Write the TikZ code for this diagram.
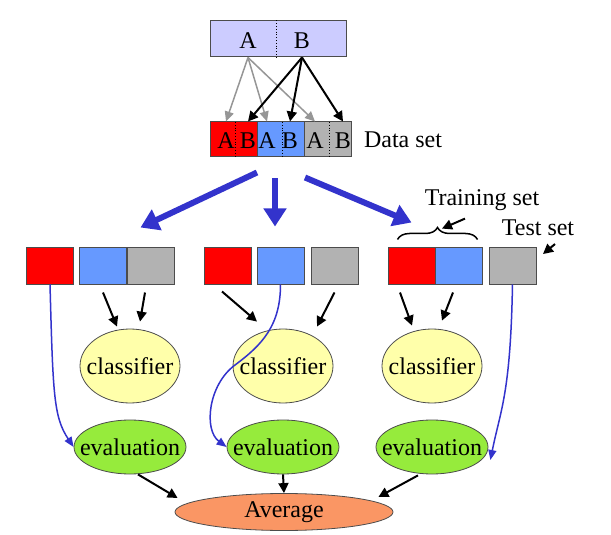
\documentclass[tikz,border=0pt]{standalone}
\usepackage{fontspec}
\setmainfont{Liberation Serif}
\usetikzlibrary{positioning,calc,arrows.meta,shapes.geometric,decorations.pathreplacing}
\definecolor{mylav}{RGB}{204,204,255}
\definecolor{myred}{RGB}{255,0,0}
\definecolor{myblue}{RGB}{102,153,255}
\definecolor{mygray}{RGB}{178,178,178}
\definecolor{myyellow}{RGB}{255,255,170}
\definecolor{mygreen}{RGB}{150,235,60}
\definecolor{myorange}{RGB}{250,150,100}
\definecolor{mydarkblue}{RGB}{51,51,204}
\definecolor{mylinegray}{RGB}{150,150,150}
\tikzset{
		cellStyle/.style = 	{draw=black!70, line width=0.5pt, minimum width=23.5pt, minimum height=18.5pt, inner sep=0pt},
		clfStyle/.style = 	{ellipse, draw=black!70, fill=myyellow, minimum width=50pt, minimum height=37pt, inner sep=0pt},
		evalStyle/.style = 	{ellipse, draw=black!70, fill=mygreen, minimum width=56pt, minimum height=27pt, inner sep=0pt},
		avgStyle/.style = 	{ellipse, draw=black!70, fill=myorange, minimum width=109pt, minimum height=18.5pt, inner sep=0pt},
		bigArrow/.style = 	{line width=3pt, color=mydarkblue, -{Triangle[length=9pt,width=11pt]}},
		blackArrow/.style = 	{line width=1pt, -{Triangle[length=5pt,width=5pt]}},
		grayArrow/.style = 	{line width=0.75pt, color=mylinegray, -{Triangle[length=5pt,width=4.5pt]}},
		blueArrow/.style = 	{line width=0.75pt, color=mydarkblue, -{Triangle[length=5pt,width=4pt]}}
}
\begin{document}
\begin{tikzpicture}[x=0.5pt, y=-0.5pt, font=\fontsize{12}{14}\selectfont]
  \useasboundingbox (0,0) rectangle (611,535);

  \node [cellStyle, fill=mylav, minimum width=68pt, minimum height=18pt] (top) at (278,39) {};
  \node (tA) at (248,40.5) {A};
  \node (tB) at (302,40.5) {B};
  \draw [densely dotted] ($(top.north)+(-2,0)$) -- ($(top.south)+(-2,0)$);

  \foreach \n/\c/\x in {dR/myred/233.5, dB/myblue/280.5, dG/mygray/328}
     \node [cellStyle, fill=\c, minimum height=17.5pt] (\n) at (\x,139.5) {};
  \foreach \x in {235,282,329}
     \draw [densely dotted] (\x,122) -- (\x,157);
  \foreach \n/\x/\t in {dRa/226/A, dRb/248/B, dBa/267/A, dBb/290/B, dGa/315/A, dGb/343/B}
     \node (\n) at (\x,140.5) {\t};
  \node [right=2.5pt of dG] (dset) {Data set};

  \coordinate (fromA) at (tA |- top.south);
  \coordinate (fromB) at (tB |- top.south);
  \foreach \n in {dRa,dBa,dGa}
     \draw [grayArrow] (fromA) -- (\n |- dR.north);
  \foreach \n in {dRb,dBb,dGb}
     \draw [blackArrow] (fromB) -- (\n |- dR.north);

  \foreach \n/\c/\x in {r1/myred/50, b1/myblue/103, g1/mygray/150.5, r2/myred/227.5, b2/myblue/280.5,
     g2/mygray/334.5, r3/myred/411.5, b3/myblue/458.5, g3/mygray/512.5}
     \node [cellStyle, fill=\c] (\n) at (\x,265.5) {};

  \draw [bigArrow] ($(dB.south)+(-23.5,15)$) -- ($(g1.north)+(-10,-19)$);
  \draw [bigArrow] ($(dB.south)+(-5.5,21)$) -- ($(b2.north)+(-5.5,-20)$);
  \draw [bigArrow] ($(dB.south)+(24.5,20)$) -- ($(r3.north)+(0,-24)$);

  \draw [decorate, decoration={brace, amplitude=6pt}, line width=0.75pt]
     ($(r3.north west)+(10,-7)$) -- ($(b3.north east)+(-5,-7)$);
  \node (train) at (482,200) {Training set};
  \node (test) at (538,228) {Test set};
  \draw [blackArrow] ($(train.south)+(-17,1)$) -- ($(train.south)+(-40,11)$);
  \draw [blackArrow] ($(test.south)+(17,1)$) -- ($(test.south)+(5,11)$);

  \foreach \i/\x in {1/130, 2/283, 3/432}
     {\node [clfStyle, label=center:classifier] (c\i) at (\x,366) {};
      \node [evalStyle, label=center:evaluation] (e\i) at (\x,447) {};}
  \node [avgStyle, label=center:Average] (avg) at (284,512) {};

  \draw [blackArrow] ($(b1.south)+(0,8)$) -- ($(c1.north)+(-13,-2)$);
  \draw [blackArrow] ($(g1.south)+(-5.5,8)$) -- ($(c1.north)+(10,-7)$);
  \draw [blackArrow] ($(r2.south)+(-5.5,7)$) -- ($(c2.north)+(-26,-7)$);
  \draw [blackArrow] ($(g2.south)+(0,8)$) -- ($(c2.north)+(34,-2)$);
  \draw [blackArrow] ($(r3.south)+(-11.5,8)$) -- ($(c3.north)+(-20,-3)$);
  \draw [blackArrow] ($(b3.south)+(-5.5,8)$) -- ($(c3.north)+(10,-8)$);

  \coordinate (bend2) at (235,365);
  \coordinate (end3) at ($(e3.east)+(2,13)$);
  \draw [blueArrow] (r1.south) .. controls +(3,110) and +(-20,-30) .. (e1.west);
  \draw [blueArrow] (b2.south) .. controls +(0,41) and +(27,-20) .. (bend2)
     .. controls +(-27,20) and +(-23,-17) .. (e2.west);
  \draw [blueArrow] (g3.south) .. controls +(-2,110) and +(10,-50) .. (end3);

  \draw [blackArrow] ($(e1.south)+(8,0)$) -- ($(avg.west)+(3,-14)$);
  \draw [blackArrow] (e2.south) -- (avg.north);
  \draw [blackArrow] ($(e3.south)+(-14,1)$) -- ($(avg.east)+(-15,-15)$);

\end{tikzpicture}
\end{document}
